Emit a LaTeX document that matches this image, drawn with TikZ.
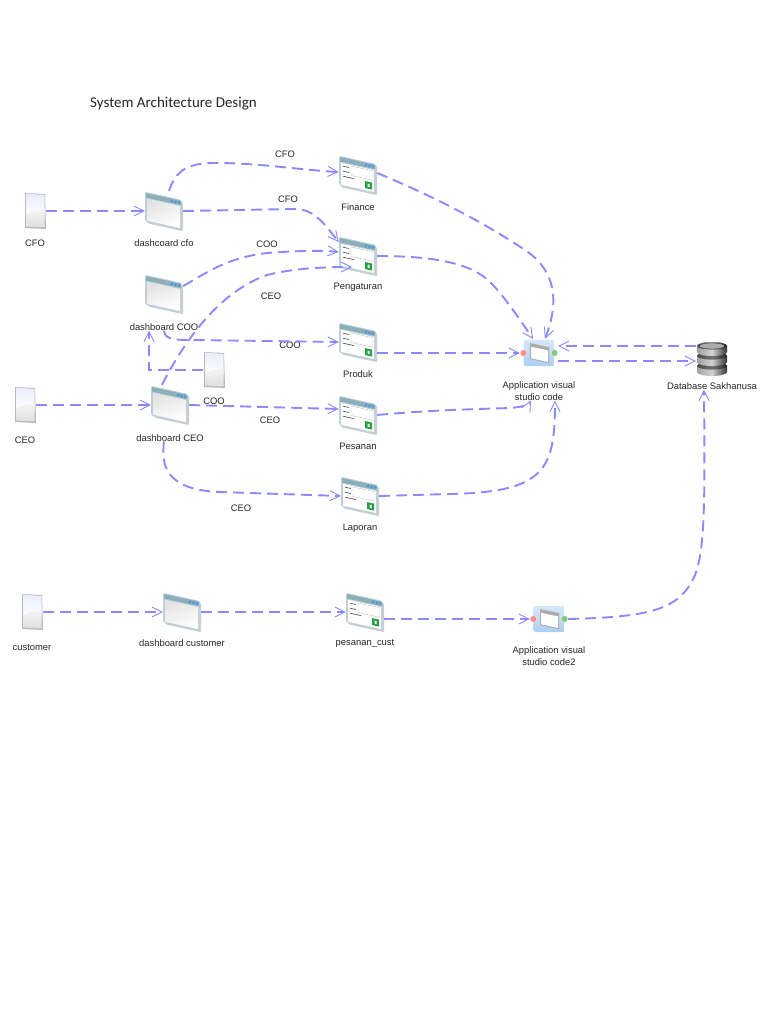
\documentclass[tikz,border=0pt]{standalone}
\usepackage{fontspec}
\setmainfont{Liberation Sans}
\newfontfamily\titlefont{Carlito}
\usetikzlibrary{positioning,arrows.meta}
\definecolor{flowblue}{RGB}{138,138,252}
\definecolor{framegrey}{RGB}{190,208,214}
\definecolor{barblue}{RGB}{140,174,186}
\definecolor{dotblue}{RGB}{60,150,230}
\definecolor{okgreen}{RGB}{40,160,70}
\definecolor{appblue}{RGB}{170,208,242}
% icon boxes lean down to the right
\newcommand\boxat[4]{(#1,{#2+.22*(#1)}) -- (#3,{#2+.22*(#3)}) -- (#3,{#4+.22*(#3)}) -- (#1,{#4+.22*(#1)}) -- cycle}
\newcommand\winbody{%
  \fill[gray!40,rounded corners=2pt] \boxat{-17}{-13.5}{19.5}{16};
  \fill[framegrey,rounded corners=2pt] \boxat{-19}{-15}{18}{15};
  \fill[barblue] \boxat{-18}{-14}{17}{-9.5};
  \foreach \dotx in {8,11.5,15} \fill[dotblue] (\dotx,{-11.8+.22*\dotx}) circle (1.4pt);
}
\newcommand\winpane{%
  \shade[top color=gray!22,bottom color=white,shading angle=20] \boxat{-17}{-8.5}{16}{13.5};
}
\newcommand\formpane{%
  \fill[white] \boxat{-17}{-8.5}{16}{13.5};
  \foreach \rowy/\rowlen in {-5.5/6,-.5/6,4.5/11} \draw[gray!70!black,line width=.7pt] (-15,{\rowy-3.3}) -- (-15+\rowlen,{\rowy-3.3+.22*\rowlen});
  \draw[gray!50,line width=.4pt] \boxat{-7}{-7.5}{15}{2};
  \fill[okgreen] \boxat{7}{4.5}{14}{11.5};
  \fill[white] \boxat{9.5}{6.5}{11.5}{9.5};
}
\tikzset{
  captxt/.style={font=\fontsize{9.4}{12}\selectfont,align=center,text=black!85,inner sep=0pt},
  flow/.style={draw=flowblue,line width=1.9pt,dash pattern=on 11pt off 6pt,
    -{Straight Barb[length=10pt,width=10pt,line width=.9pt]}},
  winicon/.style={inner sep=0pt,minimum width=38pt,minimum height=40pt,
    path picture={\begin{scope}[shift={(path picture bounding box.center)}]\winbody\winpane\end{scope}}},
  formicon/.style={inner sep=0pt,minimum width=38pt,minimum height=40pt,
    path picture={\begin{scope}[shift={(path picture bounding box.center)}]\winbody\formpane\end{scope}}},
  docicon/.style={inner sep=0pt,minimum width=22pt,minimum height=38pt,
    path picture={\begin{scope}[shift={(path picture bounding box.center)}]
      \fill[gray!55] (-10,-18) -- (10,-17) -- (11,18) -- (-10,17) -- cycle;
      \shade[top color=blue!8,bottom color=white] (-9,-17.5) -- (9.5,-16) -- (9.5,4) -- (-9,4) -- cycle;
      \shade[top color=gray!8,bottom color=gray!25] (-9,3) -- (0,0) -- (9.5,-2) -- (9.5,16.5) -- (-9,15.5) -- cycle;
    \end{scope}}},
  appicon/.style={inner sep=0pt,minimum width=38pt,minimum height=28pt,
    path picture={\begin{scope}[shift={(path picture bounding box.center)}]
      \shade[top color=appblue!50,bottom color=appblue,rounded corners=2pt] (-15.5,-13) rectangle (15.5,13);
      \fill[gray!65] \boxat{-9}{-8}{10}{8};
      \fill[white] \boxat{-8}{-4.5}{9}{7};
      \fill[red!45,draw=white,line width=.3pt] (-15.5,0) circle (3.4pt);
      \fill[green!45!gray!70,draw=white,line width=.3pt] (15.5,0) circle (3.4pt);
    \end{scope}}},
  dbicon/.style={inner sep=0pt,minimum width=32pt,minimum height=38pt,
    path picture={\begin{scope}[shift={(path picture bounding box.center)}]
      \foreach \topy in {8,-2,-12} {
        \shade[left color=black!80,right color=black!85,middle color=black!60] (0,\topy) ellipse (15pt and 4pt);
        \shade[left color=gray!75,right color=black!80,middle color=gray!35]
          (-15,\topy+6) arc[start angle=180,end angle=360,x radius=15pt,y radius=4pt]
          -- (15,\topy) arc[start angle=0,end angle=180,x radius=15pt,y radius=4pt] -- cycle;
        \shade[left color=black!70,right color=black!85,middle color=black!55] (0,\topy) ellipse (15pt and 3.6pt);
      }
      \fill[gray!65] (0,-12) ellipse (12pt and 2.6pt);
    \end{scope}}},
}
\begin{document}
\begin{tikzpicture}[x=1pt,y=-1pt,on grid]
  \useasboundingbox (0,0) rectangle (768,1024);
  \node[anchor=west,inner sep=0pt,font=\titlefont\fontsize{15}{17}\selectfont,text=black!85] (sysTitle) at (90,104) {System Architecture Design};

  \node[docicon] (docCFO) at (35,211) {};
  \node[winicon] (winCFO) [right=129pt of docCFO] {};
  \node[formicon] (formFinance) [above right=36pt and 194pt of winCFO] {};
  \node[formicon] (formPeng) [below=81pt of formFinance] {};
  \node[formicon] (formProduk) [below=86pt of formPeng] {};
  \node[formicon] (formPesanan) [below=73pt of formProduk] {};
  \node[formicon] (formLaporan) [below right=81pt and 2pt of formPesanan] {};
  \node[winicon] (winCOO) [below=83pt of winCFO] {};
  \node[winicon] (winCEO) [below right=111pt and 6pt of winCOO] {};
  \node[docicon] (docCEO) [left=145pt of winCEO] {};
  \node[docicon] (docCOO) [above right=35pt and 44pt of winCEO] {};
  \node[appicon] (appMain) [below right=11pt and 181pt of formProduk] {};
  \node[dbicon] (dbMain) [below right=5pt and 173pt of appMain] {};
  \node[docicon] (docCust) [below right=207pt and 7pt of docCEO] {};
  \node[winicon] (winCust) [right=150pt of docCust] {};
  \node[formicon] (formCust) [right=183pt of winCust] {};
  \node[appicon] (appCust) [below right=7pt and 184pt of formCust] {};

  \node[captxt] (capCFO) [below=32pt of docCFO] {CFO};
  \node[captxt] (capWinCFO) [below=32pt of winCFO] {dashcoard cfo};
  \node[captxt] (capFinance) [below=32pt of formFinance] {Finance};
  \node[captxt] (capPeng) [below=31pt of formPeng] {Pengaturan};
  \node[captxt] (capWinCOO) [below=33pt of winCOO] {dashboard COO};
  \node[captxt] (capProduk) [below=32pt of formProduk] {Produk};
  \node[captxt] (capCEO) [below=35pt of docCEO] {CEO};
  \node[captxt] (capWinCEO) [below=33pt of winCEO] {dashboard CEO};
  \node[captxt] (capCOO) [below=31pt of docCOO] {COO};
  \node[captxt] (capPesanan) [below=31pt of formPesanan] {Pesanan};
  \node[captxt] (capLaporan) [below=32pt of formLaporan] {Laporan};
  \node[captxt] (capCust) [below=36pt of docCust] {customer};
  \node[captxt] (capWinCust) [below=31pt of winCust] {dashboard customer};
  \node[captxt] (capFormCust) [below=31pt of formCust] {pesanan\_cust};
  \node[captxt] (capApp) [below=38pt of appMain] {Application visual\\studio code};
  \node[captxt] (capAppCust) [below=37pt of appCust] {Application visual\\studio code2};
  \node[captxt] (capDB) [below=28pt of dbMain] {Database Sakhanusa};

  \node[captxt] (lblFinance) at (285,154) {CFO};
  \node[captxt] (lblPengCFO) at (288,199) {CFO};
  \node[captxt] (lblPengCOO) at (267,244) {COO};
  \node[captxt] (lblPengCEO) at (271,296) {CEO};
  \node[captxt] (lblProduk) at (290,345) {COO};
  \node[captxt] (lblPesanan) at (270,420) {CEO};
  \node[captxt] (lblLaporan) at (241,508) {CEO};

  \draw[flow] (docCFO.east) -- (winCFO.west);
  \draw[flow] ([xshift=5pt]winCFO.north) .. controls (176,170) and (188,163) .. (215,163)
     .. controls (260,163) and (300,170) .. ([yshift=3pt]formFinance.west);
  \draw[flow] (winCFO.east) -- (295,209) .. controls (315,209) and (325,225) .. ([yshift=14pt]formPeng.west);
  \draw[flow] ([yshift=8pt]winCOO.east) .. controls (205,274) and (225,258) .. (267,253)
     .. controls (295,251) and (320,250) .. ([yshift=4pt]formPeng.west);
  \draw[flow] ([xshift=-8pt]winCEO.north) .. controls (190,330) and (225,290) .. (267,275)
     .. controls (295,268) and (325,267) .. ([xshift=-6pt,yshift=-11pt]formPeng.center);
  \draw[flow] (capWinCOO.south) .. controls (165,340) and (175,340) .. (195,340) -- (formProduk.west);
  \draw[flow] (docCOO.west) -| ([xshift=-15pt]capWinCOO.south);
  \draw[flow] (docCEO.east) -- (winCEO.west);
  \draw[flow] (winCEO.east) -- ([yshift=6pt]formPesanan.west);
  \draw[flow] ([xshift=-6pt]capWinCEO.south) .. controls (161,465) and (165,490) .. (220,492) -- (formLaporan.west);
  \draw[flow] ([yshift=2pt]formFinance.east) .. controls (430,195) and (480,220) .. (525,250)
     .. controls (555,270) and (560,300) .. ([xshift=6pt]appMain.north);
  \draw[flow] (formPeng.east) .. controls (430,256) and (470,262) .. (490,282)
     .. controls (505,297) and (520,320) .. ([xshift=-6pt]appMain.north);
  \draw[flow] ([yshift=-11pt]formProduk.east) -- (appMain.west);
  \draw[flow] (formPesanan.east) .. controls (430,410) and (480,409) .. (510,408)
     .. controls (520,407) and (528,406) .. ([xshift=-8pt]capApp.south);
  \draw[flow] (formLaporan.east) -- (450,494) .. controls (545,492) and (555,470) .. ([xshift=16pt]capApp.south);
  \draw[flow] ([yshift=-8pt]appMain.east) -- ([yshift=-3pt]dbMain.west);
  \draw[flow] ([yshift=12pt]dbMain.west) -- ([yshift=7pt]appMain.east);
  \draw[flow] (docCust.east) -- (winCust.west);
  \draw[flow] (winCust.east) -- (formCust.west);
  \draw[flow] ([yshift=-7pt]formCust.east) -- (appCust.west);
  \draw[flow] (appCust.east) .. controls (650,617) and (680,610) .. (695,575)
     .. controls (705,550) and (705,500) .. ([xshift=-8pt]capDB.south);
\end{tikzpicture}
\end{document}
